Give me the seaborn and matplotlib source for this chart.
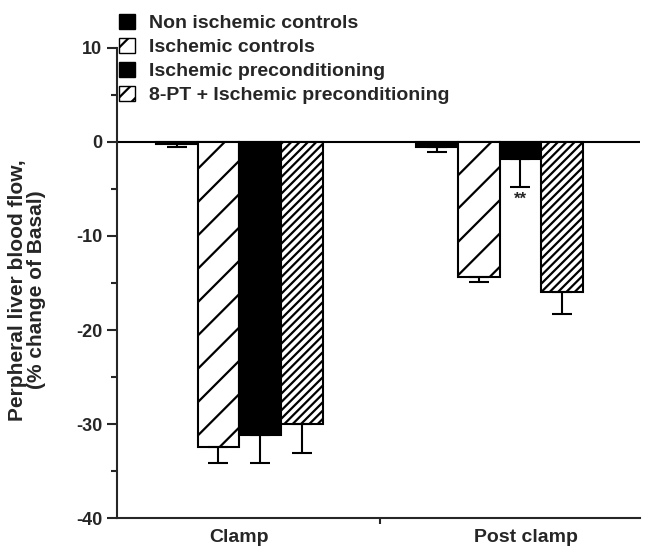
import pandas as pd
import numpy as np
import matplotlib
matplotlib.use("Agg")
import matplotlib.pyplot as plt
import seaborn as sns
from matplotlib.patches import Patch
from matplotlib.ticker import MultipleLocator, FixedLocator

periods = ["Clamp", "Post clamp"]
groups = ["Non ischemic controls", "Ischemic controls",
          "Ischemic preconditioning", "8-PT + Ischemic preconditioning"]
# mean % change per group, for Clamp and Post clamp
means = {
    "Non ischemic controls": [-0.2, -0.5],
    "Ischemic controls": [-32.4, -14.4],
    "Ischemic preconditioning": [-31.1, -1.8],
    "8-PT + Ischemic preconditioning": [-30.0, -16.0],
}
errs = {
    "Non ischemic controls": [0.3, 0.6],
    "Ischemic controls": [1.7, 0.5],
    "Ischemic preconditioning": [3.0, 3.0],
    "8-PT + Ischemic preconditioning": [3.1, 2.3],
}
faces = ["black", "white", "black", "white"]
hatches = ["", "/", "", "////"]

rows = []
for g in groups:
    for p, v in zip(periods, means[g]):
        rows.append({"period": p, "group": g, "value": v})
df = pd.DataFrame(rows)

sns.set_style("ticks")
plt.rcParams['font.family'] = ['Liberation Sans', 'DejaVu Sans']
plt.rcParams['font.weight'] = 'bold'
plt.rcParams['hatch.linewidth'] = 1.6

fig = plt.figure(figsize=(6.46, 5.49), dpi=100)
ax = fig.add_axes([0.181, 0.056, 0.81, 0.857])

sns.barplot(data=df, x="period", y="value", hue="group", hue_order=groups,
            palette=faces, width=0.64, errorbar=None, edgecolor="black",
            linewidth=1.5, legend=False, ax=ax)

for i, g in enumerate(groups):
    cont = ax.containers[i]
    for bar, e in zip(cont, errs[g]):
        bar.set_hatch(hatches[i])
        bar.set_facecolor(faces[i])
        cx = bar.get_x() + bar.get_width() / 2
        y = bar.get_height()
        ax.errorbar(cx, y, yerr=[[e], [0]], fmt="none", ecolor="black",
                    elinewidth=1.5, capsize=7, capthick=1.5)

# significance mark on IP post clamp
ip = ax.containers[2][1]
ax.text(ip.get_x() + ip.get_width() / 2, -6.1, "**", ha="center", va="center",
        fontsize=12, fontweight="bold")

ax.axhline(0, color="black", lw=1.5, zorder=0)
ax.set_ylim(-40, 10)
ax.set_xlim(-0.47, 1.54)
ax.yaxis.set_major_locator(MultipleLocator(10))
ax.yaxis.set_minor_locator(MultipleLocator(5))
ax.set_xticks([0, 1.1])
ax.xaxis.set_minor_locator(FixedLocator([0.54]))
ax.tick_params(axis="y", which="major", length=7, width=1.5, labelsize=13)
ax.tick_params(axis="y", which="minor", length=4, width=1.5)
ax.tick_params(axis="x", which="major", length=0, labelsize=14, pad=8)
ax.tick_params(axis="x", which="minor", length=4, width=1.5)
ax.set_yticklabels([str(int(t)) for t in ax.get_yticks()], fontweight="bold")
ax.set_xticklabels(periods, fontweight="bold")
sns.despine(ax=ax)
for s in ["left", "bottom"]:
    ax.spines[s].set_linewidth(1.5)
ax.set_xlabel("")
ax.set_ylabel("Perpheral liver blood flow,\n(% change of Basal)", fontsize=15,
              fontweight="bold", linespacing=1.0, labelpad=12)
ax.yaxis.set_label_coords(-0.135, 0.485)

handles = [Patch(facecolor=faces[i], edgecolor="black",
                 hatch=("/" if i == 1 else ("//" if i == 3 else "")))
           for i in range(4)]
fig.legend(handles, groups, loc="upper left", bbox_to_anchor=(0.184, 0.975),
           frameon=False, prop={"weight": "bold", "size": 14},
           handlelength=0.85, handleheight=0.85, handletextpad=0.7,
           labelspacing=0.28, borderpad=0.0, borderaxespad=0.0)

fig.savefig("out.png", dpi=100)
